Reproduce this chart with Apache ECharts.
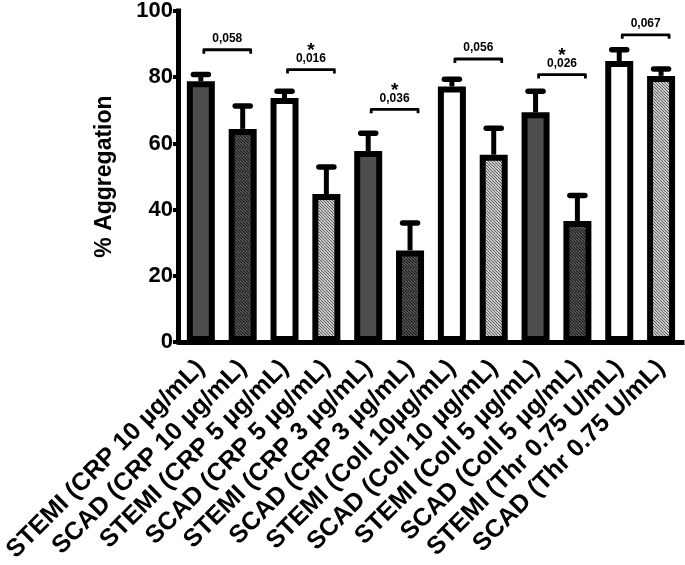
<!DOCTYPE html>
<html><head><meta charset="utf-8">
<script src="https://cdn.jsdelivr.net/npm/echarts@6/dist/echarts.min.js"></script>
<style>html,body{margin:0;padding:0;background:#fff}#c{width:685px;height:565px}</style>
</head><body><div id="c"></div>
<script>
const categories = ['STEMI (CRP 10 µg/mL)','SCAD (CRP 10 µg/mL)','STEMI (CRP 5 µg/mL)','SCAD (CRP 5 µg/mL)','STEMI (CRP 3 µg/mL)','SCAD (CRP 3 µg/mL)','STEMI (Coll 10µg/mL)','SCAD (Coll 10 µg/mL)','STEMI (Coll 5 µg/mL)','SCAD (Coll 5 µg/mL)','STEMI (Thr 0.75 U/mL)','SCAD (Thr 0.75 U/mL)'];
const means = [78.8, 64.4, 73.7, 44.7, 57.7, 27.7, 77.2, 56.6, 69.4, 36.6, 84.9, 80.4];
const errors = [2.0, 6.9, 2.1, 8.2, 5.4, 8.3, 2.2, 8.0, 6.4, 7.7, 3.4, 2.1];
const fillTypes = ['dark','darkHatch','white','lightHatch','dark','darkHatch','white','lightHatch','dark','darkHatch','white','lightHatch'];
const comparisons = [[0,1],[2,3],[4,5],[6,7],[8,9],[10,11]];
const bracketHeights = [88.3, 82.3, 70.3, 85.5, 80.8, 92.8];
const pValues = ['0,058','0,016','0,036','0,056','0,026','0,067'];
const significant = [false, true, true, false, true, false];
const yTicks = [0, 20, 40, 60, 80, 100];

function hatch(bg, fg, lw) {
  const s = 6, cv = document.createElement('canvas');
  cv.width = s; cv.height = s;
  const ctx = cv.getContext('2d');
  ctx.fillStyle = bg; ctx.fillRect(0, 0, s, s);
  ctx.strokeStyle = fg; ctx.lineWidth = lw;
  for (let k = -2 * s; k <= 2 * s; k += 3) {
    ctx.beginPath(); ctx.moveTo(k, 0); ctx.lineTo(k + s, s); ctx.stroke();
  }
  return { image: cv, repeat: 'repeat' };
}
const fills = {
  dark: '#4d4d4d',
  white: '#ffffff',
  darkHatch: hatch('#707070', '#1e1e1e', 1.3),
  lightHatch: hatch('#f2f2f2', '#5a5a5a', 1.1)
};
const FONT = '"Liberation Sans", Arial, sans-serif';

const chart = echarts.init(document.getElementById('c'), null, { renderer: 'canvas' });
chart.setOption({
  animation: false,
  grid: { left: 179, right: 3, top: 11, bottom: 221, containLabel: false },
  xAxis: {
    type: 'category', data: categories,
    axisLine: { lineStyle: { color: '#000', width: 5, cap: 'square' } },
    axisTick: { alignWithLabel: true, length: 6, lineStyle: { color: '#000', width: 3 } },
    axisLabel: { rotate: 45, interval: 0, color: '#000', fontSize: 25, fontWeight: 'bold', fontFamily: FONT, margin: 22 }
  },
  yAxis: {
    type: 'value', min: yTicks[0], max: yTicks[yTicks.length - 1], interval: 20, offset: 2,
    name: '% Aggregation', nameLocation: 'middle', nameGap: 62,
    nameTextStyle: { color: '#000', fontSize: 23, fontWeight: 'bold', fontFamily: FONT },
    axisLine: { show: true, lineStyle: { color: '#000', width: 5, cap: 'square' } },
    axisTick: { show: true, length: 5, lineStyle: { color: '#000', width: 4 } },
    axisLabel: { color: '#000', fontSize: 22, fontWeight: 'bold', fontFamily: FONT, margin: 5 },
    splitLine: { show: false }
  },
  series: [
    {
      type: 'bar', barWidth: 28, z: 3,
      data: means.map((v, i) => ({ value: v, itemStyle: { color: fills[fillTypes[i]] } })),
      itemStyle: { borderColor: '#000', borderWidth: 6 }
    },
    {
      type: 'custom', z: 2,
      data: means.map((m, i) => [i, m, m + errors[i]]),
      encode: { x: 0, y: [1, 2] },
      renderItem: function (params, api) {
        const base = api.coord([api.value(0), api.value(1)]);
        const top = api.coord([api.value(0), api.value(2)]);
        return { type: 'group', children: [
          { type: 'line', shape: { x1: base[0], y1: base[1], x2: top[0], y2: top[1] }, style: { stroke: '#000', lineWidth: 5 } },
          { type: 'line', shape: { x1: top[0] - 7.5, y1: top[1], x2: top[0] + 7.5, y2: top[1] }, style: { stroke: '#000', lineWidth: 5.5, lineCap: 'round' } }
        ] };
      }
    },
    {
      type: 'custom', z: 4,
      data: comparisons.map((c, i) => [c[0], bracketHeights[i]]),
      encode: { x: 0, y: 1 },
      renderItem: function (params, api) {
        const i = params.dataIndex;
        const c = comparisons[i];
        const a = api.coord([c[0], bracketHeights[i]]);
        const b = api.coord([c[1], bracketHeights[i]]);
        const x1 = a[0] + 3, x2 = b[0] + 8, y = a[1];
        const mid = (x1 + x2) / 2;
        const st = { stroke: '#000', lineWidth: 2.8, fill: null, lineJoin: 'round' };
        const children = [
          { type: 'polyline', shape: { points: [[x1, y + 4], [x1, y], [x2, y], [x2, y + 4]] }, style: st },
          { type: 'text', style: { text: pValues[i], x: mid, y: y - 11, align: 'center', verticalAlign: 'middle', fill: '#000', font: 'bold 12px ' + FONT } }
        ];
        if (significant[i]) {
          children.push({ type: 'text', style: { text: '*', x: mid, y: y - 19, align: 'center', verticalAlign: 'middle', fill: '#000', font: 'bold 19px ' + FONT } });
        }
        return { type: 'group', children: children };
      }
    }
  ]
});
</script></body></html>
